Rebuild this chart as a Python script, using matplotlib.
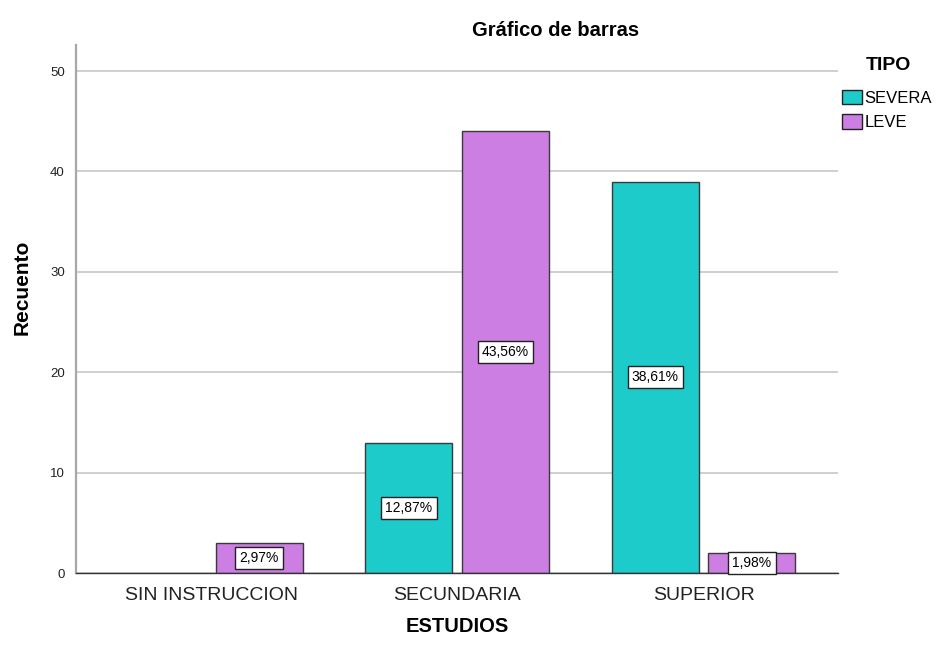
#!/usr/bin/env python3
# -*- coding: utf-8 -*-

import matplotlib

matplotlib.use("Agg")
import matplotlib.pyplot as plt
import numpy as np


CATEGORIES = ["SIN INSTRUCCION", "SECUNDARIA", "SUPERIOR"]
SERIES = ["SEVERA", "LEVE"]
SEVERA_COUNTS = [0, 13, 39]
LEVE_COUNTS = [3, 44, 2]
SEVERA_PCT = ["", "12,87%", "38,61%"]
LEVE_PCT = ["2,97%", "43,56%", "1,98%"]
Y_TICKS = [0, 10, 20, 30, 40, 50]

COLORS = {"SEVERA": "#1ecbcb", "LEVE": "#cc7ee2"}
OUT_PNG = "out.png"


def draw_chart(path):
    plt.rcParams["font.family"] = ["Liberation Sans", "DejaVu Sans"]

    fig = plt.figure(figsize=(9.36, 6.45), dpi=100)
    ax = fig.add_axes([76 / 936, 72 / 645, 762 / 936, 528 / 645])

    x = np.arange(len(CATEGORIES))
    width = 0.353
    offsets = {"SEVERA": -0.197, "LEVE": 0.195}
    values = {"SEVERA": SEVERA_COUNTS, "LEVE": LEVE_COUNTS}
    labels = {"SEVERA": SEVERA_PCT, "LEVE": LEVE_PCT}

    for name in SERIES:
        pos = x + offsets[name]
        vals = np.array(values[name], dtype=float)
        # empty bars get no outline, like the original
        widths = [1.0 if v > 0 else 0.0 for v in vals]
        ax.bar(pos, vals, width=width, color=COLORS[name],
               edgecolor="#3a3a3a", linewidth=widths, label=name, zorder=3)
        for xp, val, txt in zip(pos, vals, labels[name]):
            if val <= 0 or not txt:
                continue
            ax.text(xp, val / 2, txt, ha="center", va="center", fontsize=10,
                    zorder=5,
                    bbox=dict(boxstyle="square,pad=0.3", fc="white",
                              ec="#222222", lw=1.0))

    ax.set_xlim(-0.548, 2.544)
    ax.set_ylim(0, 52.6)
    ax.set_yticks(Y_TICKS)
    ax.set_xticks(x)
    ax.set_xticklabels(CATEGORIES, fontsize=14, color="#222222")
    ax.tick_params(axis="y", length=0, pad=8, labelsize=9.5, labelcolor="#222222")
    ax.tick_params(axis="x", length=0, pad=10)

    ax.grid(True, axis="y", color="#cfcfcf", linewidth=1.4, zorder=0)
    ax.set_axisbelow(True)
    for side in ("top", "right"):
        ax.spines[side].set_visible(False)
    ax.spines["left"].set_color("#a8a8a8")
    ax.spines["left"].set_linewidth(1.6)
    ax.spines["bottom"].set_color("#333333")
    ax.spines["bottom"].set_linewidth(1.0)
    ax.spines["bottom"].set_zorder(4)

    fig.text(556 / 936, 1 - 30 / 645, "Gráfico de barras", ha="center",
             va="center", fontsize=14.5, fontweight="bold")
    fig.text(22 / 936, 1 - 287 / 645, "Recuento", ha="center", va="center",
             rotation=90, fontsize=15, fontweight="bold")
    fig.text(457 / 936, 1 - 626 / 645, "ESTUDIOS", ha="center", va="center",
             fontsize=14.5, fontweight="bold")

    # legend title drawn separately so the gap above the entries matches
    fig.text(888 / 936, 1 - 65 / 645, "TIPO", ha="center", va="center",
             fontsize=14, fontweight="bold")
    leg = fig.legend(loc="upper left", bbox_to_anchor=(842 / 936, 1 - 90 / 645),
                     frameon=False, fontsize=12,
                     handlelength=1.2, handleheight=0.95, handletextpad=0.15,
                     labelspacing=0.5, borderpad=0, borderaxespad=0)
    for patch in leg.get_patches():
        patch.set_edgecolor("#222222")
        patch.set_linewidth(1.0)

    fig.savefig(path, dpi=100)
    plt.close(fig)


def main():
    draw_chart(OUT_PNG)


if __name__ == "__main__":
    main()
